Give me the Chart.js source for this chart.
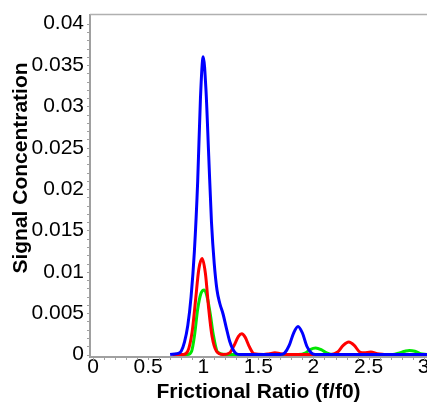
<!DOCTYPE html>
<html>
<head>
<meta charset="utf-8">
<script src="https://cdn.jsdelivr.net/npm/chart.js@4/dist/chart.umd.min.js"></script>
<style>
  html, body { margin: 0; padding: 0; background: #fff; }
  #box { width: 427px; height: 405px; }
</style>
</head>
<body>
<div id="box"><canvas id="grafico" width="427" height="405"></canvas></div>
<script>
// frictional ratio (x) and signal concentration (y)
var blueX = [0.70, 0.76, 0.80, 0.83, 0.86, 0.89, 0.92, 0.95, 0.975, 1.00, 1.025, 1.05, 1.075, 1.10, 1.125, 1.15, 1.18, 1.21, 1.24, 1.27, 1.30, 1.34, 1.70, 1.74, 1.78, 1.82, 1.86, 1.90, 1.94, 1.98, 2.02, 3.03];
var blueY = [0, 0.0001, 0.0004, 0.0015, 0.0035, 0.007, 0.0125, 0.021, 0.031, 0.036, 0.032, 0.024, 0.016, 0.011, 0.0078, 0.0062, 0.0049, 0.0032, 0.0016, 0.0006, 0.0001, 0, 0, 0.0002, 0.0011, 0.0026, 0.0034, 0.0026, 0.001, 0.0002, 0, 0];

var redX = [0.72, 0.82, 0.86, 0.90, 0.93, 0.96, 0.99, 1.02, 1.05, 1.08, 1.12, 1.18, 1.24, 1.28, 1.32, 1.35, 1.38, 1.42, 1.46, 1.55, 1.60, 1.65, 1.70, 1.78, 2.16, 2.22, 2.27, 2.32, 2.37, 2.42, 2.46, 2.52, 2.58, 2.65];
var redY = [0, 0, 0.0004, 0.0028, 0.0065, 0.0103, 0.0116, 0.0098, 0.0055, 0.0022, 0.0004, 0, 0.0002, 0.0011, 0.0022, 0.0025, 0.0021, 0.0009, 0.0001, 0, 0.0001, 0.0002, 0.0001, 0, 0, 0.0003, 0.0011, 0.0015, 0.0011, 0.0003, 0.0002, 0.0003, 0.0001, 0];

var greenX = [0.74, 0.86, 0.895, 0.92, 0.95, 0.98, 1.01, 1.04, 1.065, 1.09, 1.13, 1.20, 1.86, 1.93, 1.97, 2.02, 2.07, 2.12, 2.18, 2.72, 2.78, 2.83, 2.87, 2.92, 2.97, 3.03];
var greenY = [0, 0, 0.0004, 0.0022, 0.0055, 0.0074, 0.0078, 0.0067, 0.0048, 0.0025, 0.0003, 0, 0, 0.0002, 0.0006, 0.0008, 0.0006, 0.0002, 0, 0, 0.0002, 0.0004, 0.0005, 0.0004, 0.0001, 0];

var xTicks = [0, 0.5, 1, 1.5, 2, 2.5, 3];
var yTicks = [0, 0.005, 0.01, 0.015, 0.02, 0.025, 0.03, 0.035, 0.04];

var tituloX = 'Frictional Ratio (f/f0)';
var tituloY = 'Signal Concentration';

function pontos(xs, ys) {
    var lista = [];
    for (var i = 0; i < xs.length; i++) {
        lista.push({ x: xs[i], y: ys[i] });
    }
    return lista;
}

// small minor ticks on both axes
var minorTicks = {
    id: 'minorTicks',
    afterDraw: function (chart) {
        var ctx = chart.ctx;
        var xs = chart.scales.x, ys = chart.scales.y;
        var area = chart.chartArea;
        ctx.save();
        ctx.strokeStyle = '#a0a0a0';
        ctx.lineWidth = 1;
        ctx.beginPath();
        for (var v = 0; v <= 3.0001; v += 0.1) {
            var px = Math.round(xs.getPixelForValue(v)) + 0.5;
            if (px > area.right) break;
            ctx.moveTo(px, area.bottom);
            ctx.lineTo(px, area.bottom + 3);
        }
        for (var w = 0; w <= 0.0401; w += 0.001) {
            var py = Math.round(ys.getPixelForValue(w)) + 0.5;
            ctx.moveTo(area.left, py);
            ctx.lineTo(area.left - 3, py);
        }
        ctx.stroke();
        ctx.restore();
    }
};

// top frame line and the y title (sits a bit above the plot centre)
var moldura = {
    id: 'moldura',
    afterDraw: function (chart) {
        var c = chart.ctx, a = chart.chartArea;
        c.save();
        c.strokeStyle = '#b0b0b0';
        c.lineWidth = 1.5;
        c.beginPath();
        c.moveTo(a.left, a.top);
        c.lineTo(a.right, a.top);
        c.stroke();

        c.translate(21, 168);
        c.rotate(-Math.PI / 2);
        c.fillStyle = '#000';
        c.font = 'bold 21px "Liberation Sans", Arial, sans-serif';
        c.textAlign = 'center';
        c.textBaseline = 'middle';
        c.fillText(tituloY, 0, 0);
        c.restore();
    }
};

var ctx = document.getElementById('grafico');
new Chart(ctx, {
    type: 'line',
    data: {
        datasets: [
            { data: pontos(blueX, blueY), borderColor: '#0000ff', borderWidth: 3, order: 0 },
            { data: pontos(redX, redY), borderColor: '#ff0000', borderWidth: 3, order: 1 },
            { data: pontos(greenX, greenY), borderColor: '#00e600', borderWidth: 3, order: 2 }
        ]
    },
    options: {
        responsive: false,
        animation: false,
        events: [],
        layout: { padding: { top: 12, right: 0, left: 0, bottom: 0 } },
        elements: {
            point: { radius: 0 },
            line: { cubicInterpolationMode: 'monotone', fill: false, borderJoinStyle: 'round' }
        },
        plugins: { legend: { display: false }, tooltip: { enabled: false } },
        scales: {
            x: {
                type: 'linear',
                min: -0.027,
                max: 3.03,
                afterBuildTicks: function (s) { s.ticks = xTicks.map(function (v) { return { value: v }; }); },
                afterFit: function (s) { s.height = 48; },
                grid: { display: false, drawTicks: true, tickLength: 4, tickColor: '#a0a0a0' },
                border: { display: true, color: '#a0a0a0', width: 2 },
                ticks: {
                    color: '#000', padding: -4, maxRotation: 0, autoSkip: false,
                    font: { family: 'Liberation Sans', size: 21, lineHeight: 1 },
                    callback: function (v) { return String(v); }
                },
                title: {
                    display: true, text: tituloX, color: '#000', padding: { top: 0, bottom: 2 },
                    font: { family: 'Liberation Sans', size: 21, weight: 'bold', lineHeight: 1 }
                }
            },
            y: {
                min: -0.0003,
                max: 0.0411,
                afterBuildTicks: function (s) { s.ticks = yTicks.map(function (v) { return { value: v }; }); },
                afterFit: function (s) { s.width = 90; },
                grid: { display: false, drawTicks: true, tickLength: 4, tickColor: '#a0a0a0' },
                border: { display: true, color: '#a0a0a0', width: 2 },
                ticks: {
                    color: '#000', padding: 2, autoSkip: false,
                    font: { family: 'Liberation Sans', size: 21 },
                    callback: function (v) { return String(v); }
                },
                title: { display: false }
            }
        }
    },
    plugins: [minorTicks, moldura]
});
</script>
</body>
</html>
